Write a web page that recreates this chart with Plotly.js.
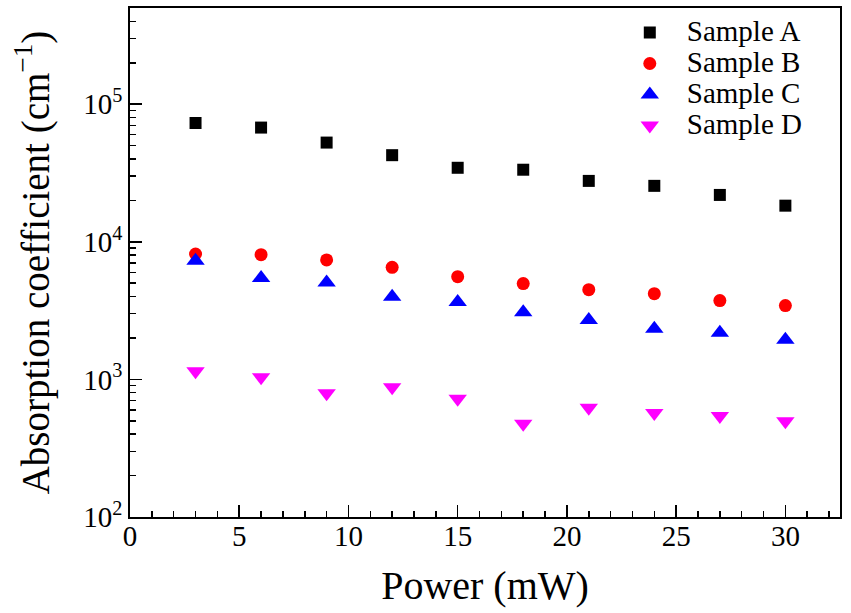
<!DOCTYPE html>
<html>
<head>
<meta charset="utf-8">
<script src="https://cdn.plot.ly/plotly-3.0.1.min.js"></script>
<style>html,body{margin:0;padding:0;background:#fff;}#chart{width:851px;height:613px;}</style>
</head>
<body>
<div id="chart"></div>
<script>
// Data
const power = [3, 6, 9, 12, 15, 18, 21, 24, 27, 30];
const sampleA = [73000, 67600, 52600, 42600, 34500, 33400, 27700, 25500, 21900, 18300];
const sampleB = [8150, 8060, 7380, 6520, 5580, 4970, 4490, 4200, 3740, 3440];
const sampleC = [7290, 5460, 5070, 3990, 3650, 3070, 2700, 2330, 2180, 1940];
const sampleD = [1146, 1037, 794, 878, 723, 476, 622, 569, 541, 497];
const seriesNames = ["Sample A", "Sample B", "Sample C", "Sample D"];
const yTickVals = [100, 1000, 10000, 100000];
const yTickText = ["10<sup>2</sup>", "10<sup>3</sup>", "10<sup>4</sup>", "10<sup>5</sup>"];
const xTitle = "Power (mW)";
const yTitle = "Absorption coefficient (cm<sup>\u22121</sup>)";

const minorY = [];
[100, 1000, 10000, 100000].forEach(d => { for (let k = 2; k <= 9; k++) { if (d * k <= 500000) minorY.push(d * k); } });

const FONT = 'Liberation Serif, DejaVu Serif, serif';
const legName = s => '<span style="font-size:29px">' + s + '</span>';

const traces = [
  {x: power, y: sampleA, name: legName(seriesNames[0]), mode: 'markers', type: 'scatter',
   marker: {symbol: 'square', size: 12, color: '#000000'}},
  {x: power, y: sampleB, name: legName(seriesNames[1]), mode: 'markers', type: 'scatter',
   marker: {symbol: 'circle', size: 13, color: '#ff0000'}},
  {x: power, y: sampleC, name: legName(seriesNames[2]), mode: 'markers', type: 'scatter',
   marker: {symbol: 'triangle-up', size: 16, color: '#0000ff'}},
  {x: power, y: sampleD, name: legName(seriesNames[3]), mode: 'markers', type: 'scatter',
   marker: {symbol: 'triangle-down', size: 16, color: '#ff00ff'}}
];

const layout = {
  width: 851, height: 613,
  margin: {l: 130, r: 11, t: 8, b: 96},
  paper_bgcolor: '#ffffff', plot_bgcolor: '#ffffff',
  font: {family: FONT, color: '#000000', size: 28},
  showlegend: true,
  legend: {x: 0.68, xanchor: 'left', y: 0.992, yanchor: 'top', bgcolor: 'rgba(0,0,0,0)',
           borderwidth: 0, font: {family: FONT, size: 21.5, color: '#000'}, itemwidth: 64},
  xaxis: {
    range: [0, 32.5], dtick: 5, tick0: 0,
    showline: true, mirror: true, linecolor: '#000', linewidth: 1.8,
    ticks: 'inside', ticklen: 12, tickwidth: 1.5, tickcolor: '#000',
    showgrid: false, zeroline: false,
    tickfont: {family: FONT, size: 29, color: '#000'},
    ticklabelstandoff: -8,
    minor: {dtick: 1, tick0: 0, ticks: 'inside', ticklen: 6, tickwidth: 1.5, tickcolor: '#000', showgrid: false},
    title: {text: xTitle, font: {family: FONT, size: 40, color: '#000'}, standoff: 20},
    automargin: false
  },
  yaxis: {
    type: 'log', range: [2, Math.log10(500000)],
    tickmode: 'array', tickvals: yTickVals, ticktext: yTickText,
    showline: true, mirror: true, linecolor: '#000', linewidth: 1.8,
    ticks: 'inside', ticklen: 12, tickwidth: 1.5, tickcolor: '#000',
    showgrid: false, zeroline: false,
    tickfont: {family: FONT, size: 29, color: '#000'},
    minor: {tickmode: 'array', tickvals: minorY, ticks: 'inside', ticklen: 6, tickwidth: 1.5, tickcolor: '#000', showgrid: false},
    title: {text: yTitle, font: {family: FONT, size: 39, color: '#000'}, standoff: 22},
    automargin: false
  }
};

Plotly.newPlot('chart', traces, layout, {displayModeBar: false, staticPlot: true});
</script>
</body>
</html>
